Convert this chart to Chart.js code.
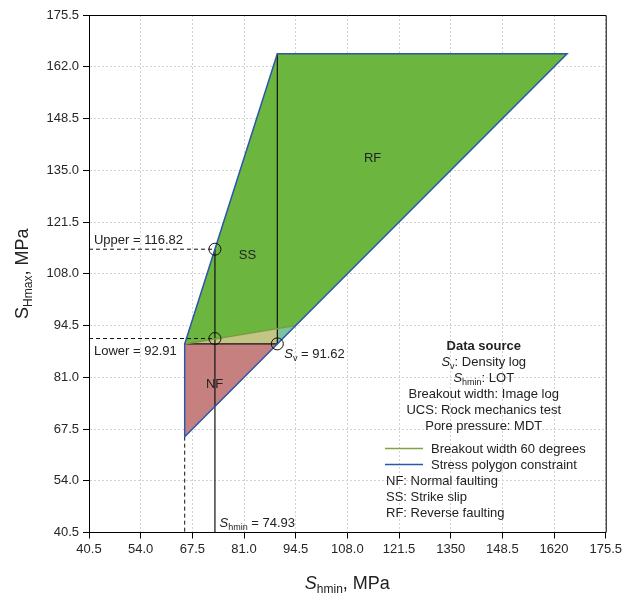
<!DOCTYPE html>
<html>
<head>
<meta charset="utf-8">
<script src="https://cdn.jsdelivr.net/npm/chart.js@4.4.0/dist/chart.umd.min.js"></script>
<style>
  html, body { margin: 0; padding: 0; background: #fff; }
</style>
</head>
<body>
<canvas id="poligonoEsfuerzos" width="625" height="596"></canvas>
<script>
// Ejes (MPa)
const tickValues = [40.5, 54.0, 67.5, 81.0, 94.5, 108.0, 121.5, 135.0, 148.5, 162.0, 175.5];
const xTickLabels = ['40.5', '54.0', '67.5', '81.0', '94.5', '108.0', '121.5', '1350', '148.5', '1620', '175.5'];
const yTickLabels = ['40.5', '54.0', '67.5', '81.0', '94.5', '108.0', '121.5', '135.0', '148.5', '162.0', '175.5'];

// Polígono de esfuerzos (Shmin, SHmax)
const poligonoX = [65.5, 65.5, 89.7, 165.4, 65.5];
const poligonoY = [65.5, 89.7, 165.4, 165.4, 65.5];

// Regiones rellenas
const rfssX = [65.5, 89.7, 165.4, 94.5, 65.5];
const rfssY = [89.7, 165.4, 165.4, 94.5, 89.7];
const nfX = [65.5, 65.5, 89.7, 65.5];
const nfY = [65.5, 89.7, 89.7, 65.5];
const breakoutSSX = [65.5, 89.7, 89.7, 65.5];
const breakoutSSY = [89.7, 93.6, 89.7, 89.7];
const breakoutRFX = [89.7, 94.5, 89.7, 89.7];
const breakoutRFY = [93.6, 94.5, 89.7, 93.6];

// Línea de breakout de 60 grados
const breakoutX = [65.5, 94.5];
const breakoutY = [89.7, 94.5];

// Líneas de referencia
const svLineX = [89.7, 89.7];
const svLineY = [165.4, 89.7];
const nfTopX = [65.5, 89.7];
const nfTopY = [89.7, 89.7];
const shminLineX = [73.4, 73.4];
const shminLineY = [114.4, 40.5];
const upperDashX = [40.5, 73.4];
const upperDashY = [114.4, 114.4];
const lowerDashX = [40.5, 73.4];
const lowerDashY = [91.1, 91.1];
const minDashX = [65.5, 65.5];
const minDashY = [65.5, 40.5];

// Puntos marcados (Upper, Lower, Sv)
const circulosX = [73.4, 73.4, 89.7];
const circulosY = [114.4, 91.1, 89.7];

const FONT = '"Liberation Sans", Arial, sans-serif';

function puntos(xs, ys) {
    return xs.map((x, i) => ({ x: x, y: ys[i] }));
}

function linea(xs, ys, color, ancho, dash, orden) {
    return {
        data: puntos(xs, ys),
        borderColor: color,
        borderWidth: ancho,
        borderDash: dash || [],
        pointRadius: 0,
        fill: false,
        order: orden
    };
}

function region(xs, ys, color, orden) {
    return {
        data: puntos(xs, ys),
        borderWidth: 0,
        borderColor: 'rgba(0,0,0,0)',
        backgroundColor: color,
        pointRadius: 0,
        fill: 'shape',
        order: orden
    };
}

function fuente(p) {
    return (p.i ? 'italic ' : '') + (p.b ? 'bold ' : '') + (p.s || 13) + 'px ' + FONT;
}

// Dibuja texto con partes en cursiva / subíndice
function textoRico(ctx, partes, x, y, align) {
    let total = 0;
    partes.forEach(p => { ctx.font = fuente(p); total += ctx.measureText(p.t).width; });
    let cx = align === 'center' ? x - total / 2 : (align === 'right' ? x - total : x);
    ctx.textAlign = 'left';
    ctx.textBaseline = 'alphabetic';
    partes.forEach(p => {
        ctx.font = fuente(p);
        ctx.fillText(p.t, cx, y + (p.dy || 0));
        cx += ctx.measureText(p.t).width;
    });
}

const anotaciones = {
    id: 'anotaciones',
    afterDatasetsDraw(chart) {
        const ctx = chart.ctx;
        const xs = chart.scales.x, ys = chart.scales.y;
        const area = chart.chartArea;
        const px = v => xs.getPixelForValue(v);
        const py = v => ys.getPixelForValue(v);
        ctx.save();

        // marco superior y derecho
        ctx.strokeStyle = '#000';
        ctx.lineWidth = 1;
        ctx.beginPath();
        ctx.moveTo(area.left, area.top + 0.5);
        ctx.lineTo(area.right + 0.5, area.top + 0.5);
        ctx.lineTo(area.right + 0.5, area.bottom);
        ctx.stroke();

        ctx.fillStyle = '#222';
        textoRico(ctx, [{ t: 'Upper = 116.82' }], px(41.8), py(116.9) + 4.5, 'left');
        textoRico(ctx, [{ t: 'Lower = 92.91' }], px(41.8), py(88.1) + 4.5, 'left');
        textoRico(ctx, [{ t: 'SS' }], px(81.9), py(112.9) + 4.5, 'center');
        textoRico(ctx, [{ t: 'RF' }], px(114.6), py(138.2) + 4.5, 'center');
        textoRico(ctx, [{ t: 'NF' }], px(73.3), py(79.5) + 4.5, 'center');
        textoRico(ctx, [{ t: 'S', i: true }, { t: 'v', s: 9, dy: 3 }, { t: ' = 91.62' }], px(91.5), py(87.3) + 4.5, 'left');
        textoRico(ctx, [{ t: 'S', i: true }, { t: 'hmin', s: 9, dy: 3 }, { t: ' = 74.93' }], px(74.6), py(43.2) + 4.5, 'left');

        // fuente de datos
        const cxs = area.right - 122;
        const y0 = area.top + 334.5;
        textoRico(ctx, [{ t: 'Data source', b: true }], cxs, y0, 'center');
        textoRico(ctx, [{ t: 'S', i: true }, { t: 'v', s: 9, dy: 3 }, { t: ': Density log' }], cxs, y0 + 16, 'center');
        textoRico(ctx, [{ t: 'S', i: true }, { t: 'hmin', s: 9, dy: 3 }, { t: ': LOT' }], cxs, y0 + 32, 'center');
        textoRico(ctx, [{ t: 'Breakout width: Image log' }], cxs, y0 + 48, 'center');
        textoRico(ctx, [{ t: 'UCS: Rock mechanics test' }], cxs, y0 + 64, 'center');
        textoRico(ctx, [{ t: 'Pore pressure: MDT' }], cxs, y0 + 80, 'center');

        // leyenda
        const lx = area.left + 296;
        const ly = area.top + 433.5;
        ctx.lineWidth = 1.5;
        ctx.strokeStyle = '#7fa446';
        ctx.beginPath(); ctx.moveTo(lx, ly); ctx.lineTo(lx + 38, ly); ctx.stroke();
        ctx.strokeStyle = '#2a57a8';
        ctx.beginPath(); ctx.moveTo(lx, ly + 16); ctx.lineTo(lx + 38, ly + 16); ctx.stroke();
        textoRico(ctx, [{ t: 'Breakout width 60 degrees' }], lx + 46, ly + 4.5, 'left');
        textoRico(ctx, [{ t: 'Stress polygon constraint' }], lx + 46, ly + 20.5, 'left');
        textoRico(ctx, [{ t: 'NF: Normal faulting' }], lx + 1, ly + 36, 'left');
        textoRico(ctx, [{ t: 'SS: Strike slip' }], lx + 1, ly + 52, 'left');
        textoRico(ctx, [{ t: 'RF: Reverse faulting' }], lx + 1, ly + 68, 'left');

        // títulos de ejes
        textoRico(ctx, [{ t: 'S', i: true, s: 18 }, { t: 'hmin', s: 12, dy: 4 }, { t: ', MPa', s: 18 }],
            (area.left + area.right) / 2, 589, 'center');
        ctx.translate(28, (area.top + area.bottom) / 2);
        ctx.rotate(-Math.PI / 2);
        textoRico(ctx, [{ t: 'S', s: 18 }, { t: 'Hmax', s: 12, dy: 4 }, { t: ', MPa', s: 18 }], 0, 0, 'center');
        ctx.restore();
    }
};

function crearGrafico() {
    const ctx = document.getElementById('poligonoEsfuerzos');
    if (!ctx) {
        console.error("No se encontró el canvas 'poligonoEsfuerzos'.");
        return;
    }
    const ejeComun = {
        type: 'linear',
        min: tickValues[0],
        max: tickValues[tickValues.length - 1],
        grid: { color: '#d2d2d2', lineWidth: 1, tickColor: '#000', tickLength: 6, tickBorderDash: [] },
        border: { color: '#000', width: 1, dash: [2, 2] }
    };
    new Chart(ctx.getContext('2d'), {
        type: 'line',
        data: {
            datasets: [
                {
                    data: puntos(circulosX, circulosY),
                    showLine: false,
                    pointRadius: 6,
                    pointBackgroundColor: 'rgba(0,0,0,0)',
                    pointBorderColor: '#111',
                    pointBorderWidth: 1,
                    order: 0
                },
                linea(poligonoX, poligonoY, '#2a57a8', 1.5, null, 1),
                linea(breakoutX, breakoutY, '#7a9c40', 1.5, null, 2),
                linea(svLineX, svLineY, '#111', 1.2, null, 3),
                linea(nfTopX, nfTopY, '#111', 1.2, null, 3),
                linea(shminLineX, shminLineY, '#111', 1.2, null, 3),
                linea(upperDashX, upperDashY, '#111', 1, [4, 3], 3),
                linea(lowerDashX, lowerDashY, '#111', 1, [4, 3], 3),
                linea(minDashX, minDashY, '#111', 1, [4, 3], 3),
                region(breakoutRFX, breakoutRFY, '#7cc29c', 10),
                region(breakoutSSX, breakoutSSY, '#c3c584', 10),
                region(nfX, nfY, '#c68080', 10),
                region(rfssX, rfssY, '#6cb640', 11)
            ]
        },
        options: {
            responsive: false,
            animation: false,
            layout: { padding: { top: 15, right: 16, bottom: 0, left: 0 } },
            scales: {
                x: Object.assign({}, ejeComun, {
                    ticks: {
                        stepSize: 13.5, autoSkip: false, maxRotation: 0, padding: 3,
                        color: '#262626', font: { family: FONT, size: 13 },
                        callback: (v, i) => xTickLabels[i]
                    },
                    afterFit: s => { s.height = 63.5; }
                }),
                y: Object.assign({}, ejeComun, {
                    ticks: {
                        stepSize: 13.5, autoSkip: false, padding: 4,
                        color: '#262626', font: { family: FONT, size: 13 },
                        callback: (v, i) => yTickLabels[i]
                    },
                    afterFit: s => { s.width = 89; }
                })
            },
            plugins: {
                legend: { display: false },
                tooltip: { enabled: false }
            }
        },
        plugins: [anotaciones]
    });
}

document.addEventListener('DOMContentLoaded', crearGrafico);
</script>
</body>
</html>
